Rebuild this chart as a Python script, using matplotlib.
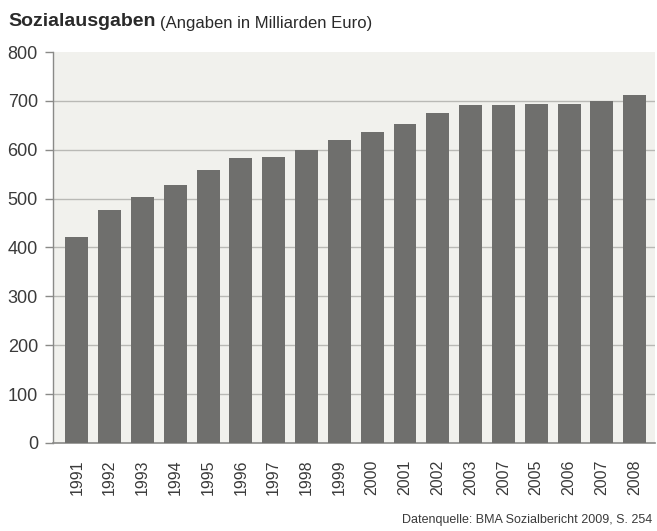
import matplotlib
matplotlib.use("Agg")
import matplotlib.pyplot as plt
import numpy as np

# Sozialausgaben in Mrd. Euro
labels = ["1991", "1992", "1993", "1994", "1995", "1996", "1997", "1998", "1999",
          "2000", "2001", "2002", "2003", "2007", "2005", "2006", "2007", "2008"]
values = [422, 477, 503, 528, 558, 583, 585, 599, 620,
          636, 653, 675, 692, 692, 693, 694, 700, 712]
yticks = [0, 100, 200, 300, 400, 500, 600, 700, 800]

FONT = ["Liberation Sans", "DejaVu Sans"]
TEXT = "#3a3a3a"

fig = plt.figure(figsize=(6.57, 5.31), dpi=100)
ax = fig.add_axes([0.081, 0.166, 0.916, 0.736])

x = np.arange(len(values))
ax.bar(x, values, width=0.7, color="#6f6f6d", zorder=3)

ax.set_facecolor("#f1f1ed")
ax.set_xlim(-0.72, len(values) - 1 + 0.62)
ax.set_ylim(0, 800)
ax.set_yticks(yticks)
ax.grid(axis="y", color="#b9b9b5", linewidth=1.0, zorder=1)
ax.get_ygridlines()[-1].set_visible(False)  # no line along the top

for s in ("top", "right"):
    ax.spines[s].set_visible(False)
ax.spines["left"].set_color("#8a8a88")
ax.spines["bottom"].set_color("#8a8a88")
ax.spines["left"].set_linewidth(1.0)
ax.spines["bottom"].set_linewidth(1.2)

ax.tick_params(axis="y", length=6, width=1, color="#8a8a88", pad=5)
ax.tick_params(axis="x", length=0, pad=12)
for t in ax.get_yticklabels():
    t.set_family(FONT)
    t.set_fontsize(13)
    t.set_color(TEXT)

ax.set_xticks(x)
ax.set_xticklabels(labels, rotation=90, family=FONT, fontsize=11.5, color=TEXT)

fig.text(0.012, 0.960, "Sozialausgaben", family=FONT, fontsize=14,
         fontweight="bold", color="#2a2a2a", va="center")
fig.text(0.243, 0.956, "(Angaben in Milliarden Euro)", family=FONT,
         fontsize=12, color="#2a2a2a", va="center")
fig.text(0.993, 0.020, "Datenquelle: BMA Sozialbericht 2009, S. 254",
         family=FONT, fontsize=9, color=TEXT, ha="right", va="center")

fig.savefig("out.png", dpi=100, facecolor="white")
